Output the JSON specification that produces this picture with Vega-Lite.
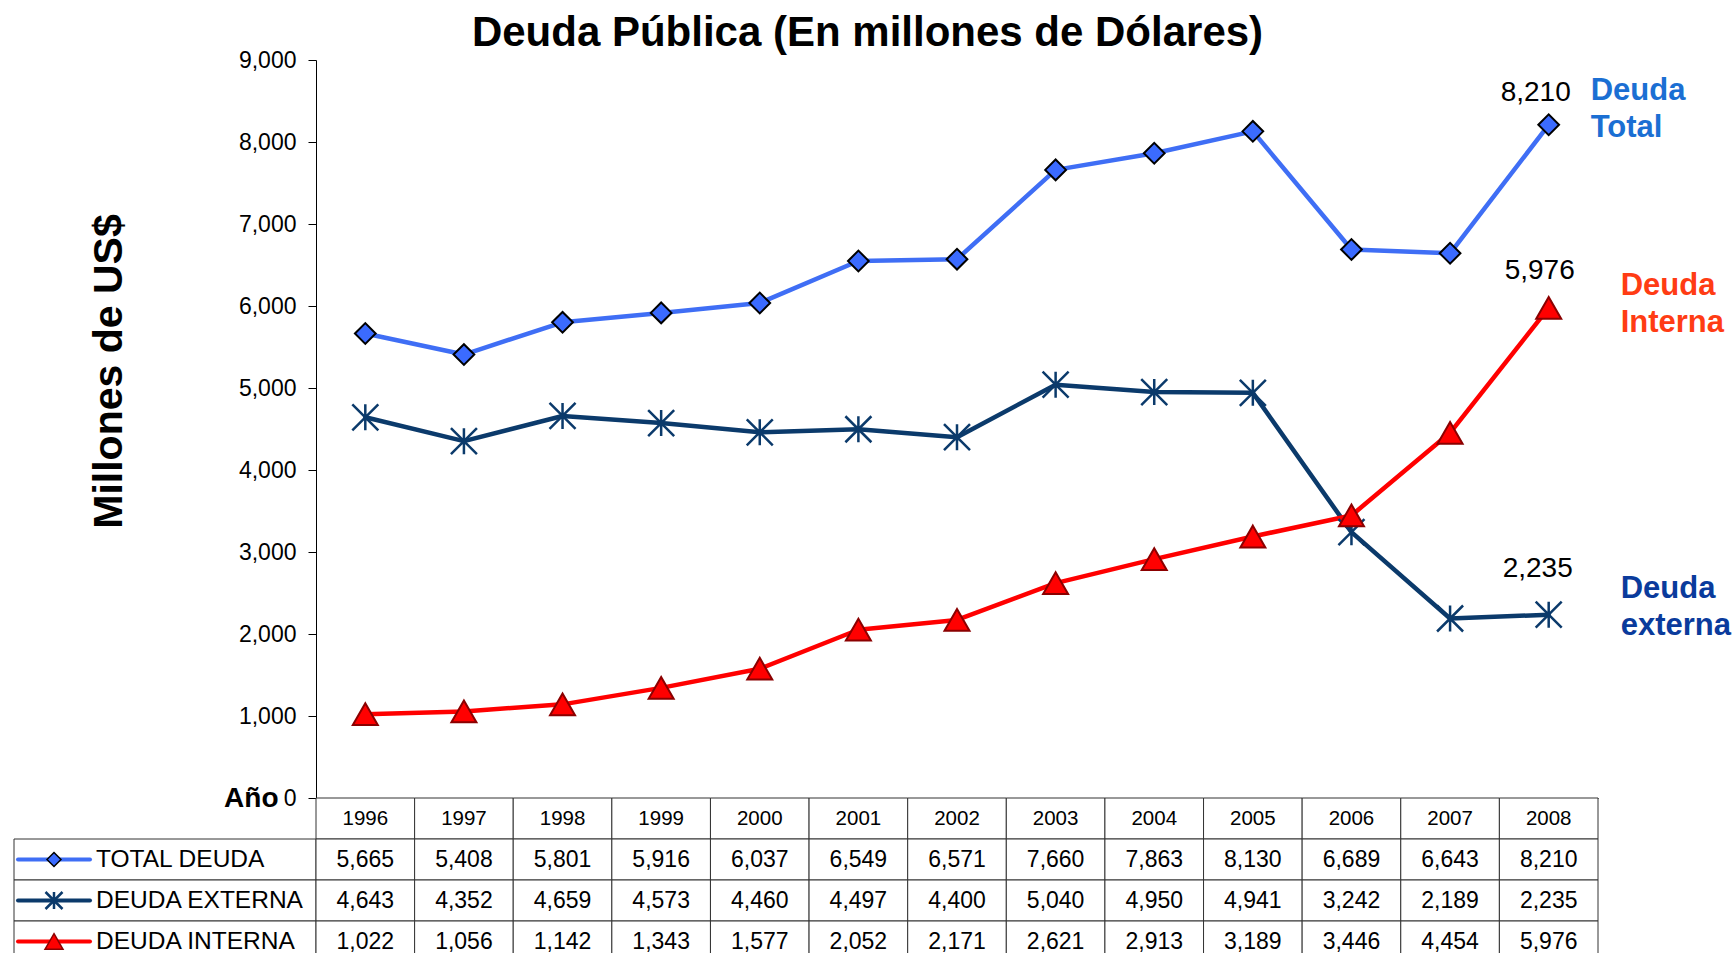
{
  "$schema": "https://vega.github.io/schema/vega-lite/v6.json",
  "padding": {"left": 10, "top": 12, "right": 5, "bottom": 0},
  "background": "white",
  "title": {"text": "Deuda Pública (En millones de Dólares)", "fontSize": 42, "font": "Liberation Sans", "fontWeight": "bold", "color": "#000000", "anchor": "middle", "offset": -6, "dx": -3},
  "config": {"view": {"stroke": null}, "font": "Liberation Sans"},
  "datasets": {
    "deuda": [
      {"year": "1996", "serie": "TOTAL DEUDA", "value": 5665},
      {"year": "1997", "serie": "TOTAL DEUDA", "value": 5408},
      {"year": "1998", "serie": "TOTAL DEUDA", "value": 5801},
      {"year": "1999", "serie": "TOTAL DEUDA", "value": 5916},
      {"year": "2000", "serie": "TOTAL DEUDA", "value": 6037},
      {"year": "2001", "serie": "TOTAL DEUDA", "value": 6549},
      {"year": "2002", "serie": "TOTAL DEUDA", "value": 6571},
      {"year": "2003", "serie": "TOTAL DEUDA", "value": 7660},
      {"year": "2004", "serie": "TOTAL DEUDA", "value": 7863},
      {"year": "2005", "serie": "TOTAL DEUDA", "value": 8130},
      {"year": "2006", "serie": "TOTAL DEUDA", "value": 6689},
      {"year": "2007", "serie": "TOTAL DEUDA", "value": 6643},
      {"year": "2008", "serie": "TOTAL DEUDA", "value": 8210},
      {"year": "1996", "serie": "DEUDA EXTERNA", "value": 4643},
      {"year": "1997", "serie": "DEUDA EXTERNA", "value": 4352},
      {"year": "1998", "serie": "DEUDA EXTERNA", "value": 4659},
      {"year": "1999", "serie": "DEUDA EXTERNA", "value": 4573},
      {"year": "2000", "serie": "DEUDA EXTERNA", "value": 4460},
      {"year": "2001", "serie": "DEUDA EXTERNA", "value": 4497},
      {"year": "2002", "serie": "DEUDA EXTERNA", "value": 4400},
      {"year": "2003", "serie": "DEUDA EXTERNA", "value": 5040},
      {"year": "2004", "serie": "DEUDA EXTERNA", "value": 4950},
      {"year": "2005", "serie": "DEUDA EXTERNA", "value": 4941},
      {"year": "2006", "serie": "DEUDA EXTERNA", "value": 3242},
      {"year": "2007", "serie": "DEUDA EXTERNA", "value": 2189},
      {"year": "2008", "serie": "DEUDA EXTERNA", "value": 2235},
      {"year": "1996", "serie": "DEUDA INTERNA", "value": 1022},
      {"year": "1997", "serie": "DEUDA INTERNA", "value": 1056},
      {"year": "1998", "serie": "DEUDA INTERNA", "value": 1142},
      {"year": "1999", "serie": "DEUDA INTERNA", "value": 1343},
      {"year": "2000", "serie": "DEUDA INTERNA", "value": 1577},
      {"year": "2001", "serie": "DEUDA INTERNA", "value": 2052},
      {"year": "2002", "serie": "DEUDA INTERNA", "value": 2171},
      {"year": "2003", "serie": "DEUDA INTERNA", "value": 2621},
      {"year": "2004", "serie": "DEUDA INTERNA", "value": 2913},
      {"year": "2005", "serie": "DEUDA INTERNA", "value": 3189},
      {"year": "2006", "serie": "DEUDA INTERNA", "value": 3446},
      {"year": "2007", "serie": "DEUDA INTERNA", "value": 4454},
      {"year": "2008", "serie": "DEUDA INTERNA", "value": 5976}
    ]
  },
  "columns": 2,
  "spacing": 0,
  "bounds": "flush",
  "align": "each",
  "concat": [
    {
      "width": 302,
      "height": 738,
      "data": {"values": [{}]},
      "mark": {"type": "point", "opacity": 0}
    },
    {
      "width": 1282,
      "height": 738,
      "data": {"name": "deuda"},
      "encoding": {
        "x": {"field": "year", "type": "ordinal", "scale": {"type": "point", "padding": 0.5},
          "axis": {"labels": false, "ticks": false, "domain": true, "domainColor": "#000000", "domainWidth": 1, "grid": false,
            "title": "Año", "titleFontSize": 28, "titleFontWeight": "bold", "titleColor": "#000000", "titleAlign": "right", "titleBaseline": "alphabetic", "titleX": -38, "titleY": 8}},
        "y": {"field": "value", "type": "quantitative", "scale": {"domain": [0, 9000], "nice": false, "zero": true},
          "axis": {"values": [0, 1000, 2000, 3000, 4000, 5000, 6000, 7000, 8000, 9000], "format": ",.0f", "grid": false,
            "labelFontSize": 23, "labelColor": "#000000", "labelPadding": 12, "labelFlush": false, "labelOverlap": false,
            "tickSize": 8, "tickColor": "#000000", "domainColor": "#000000",
            "title": "Millones de US$", "titleFontSize": 41, "titleFontWeight": "bold", "titleColor": "#000000", "titleAngle": -90,
            "titleX": -207, "titleY": 311, "titleAlign": "center", "titleBaseline": "middle"}}
      },
      "layer": [
        {
          "mark": {"type": "line", "strokeWidth": 4.5, "strokeCap": "round", "strokeJoin": "round"},
          "encoding": {"color": {"field": "serie", "type": "nominal",
            "scale": {"domain": ["TOTAL DEUDA", "DEUDA EXTERNA", "DEUDA INTERNA"], "range": ["#3f6ef5", "#0b3a6b", "#ff0000"]}, "legend": null}}
        },
        {
          "transform": [{"filter": "datum.serie == 'TOTAL DEUDA'"}],
          "mark": {"type": "point", "shape": "diamond", "filled": true, "fill": "#3b6bff", "stroke": "#000000", "strokeWidth": 2, "size": 430, "opacity": 1}
        },
        {
          "transform": [{"filter": "datum.serie == 'DEUDA EXTERNA'"}],
          "mark": {"type": "point", "shape": "M-1,-1L1,1M-1,1L1,-1M0,-1L0,1", "filled": false, "stroke": "#0b3a6b", "strokeWidth": 2.5, "size": 676, "opacity": 1}
        },
        {
          "transform": [{"filter": "datum.serie == 'DEUDA INTERNA'"}],
          "mark": {"type": "point", "shape": "M0,-0.87L1,0.87L-1,0.87Z", "filled": true, "fill": "#ff0000", "stroke": "#8b0000", "strokeWidth": 2, "size": 625, "opacity": 1}
        },
        {
          "transform": [{"filter": "datum.serie == 'TOTAL DEUDA' && datum.year == '2008'"}],
          "mark": {"type": "text", "align": "center", "baseline": "alphabetic", "dx": -13, "dy": -24, "fontSize": 28, "color": "#000000"},
          "encoding": {"text": {"field": "value", "type": "quantitative", "format": ","}}
        },
        {
          "transform": [{"filter": "datum.serie == 'DEUDA INTERNA' && datum.year == '2008'"}],
          "mark": {"type": "text", "align": "center", "baseline": "alphabetic", "dx": -9, "dy": -29, "fontSize": 28, "color": "#000000"},
          "encoding": {"text": {"field": "value", "type": "quantitative", "format": ","}}
        },
        {
          "transform": [{"filter": "datum.serie == 'DEUDA EXTERNA' && datum.year == '2008'"}],
          "mark": {"type": "text", "align": "center", "baseline": "alphabetic", "dx": -11, "dy": -38, "fontSize": 28, "color": "#000000"},
          "encoding": {"text": {"field": "value", "type": "quantitative", "format": ","}}
        },
        {
          "transform": [{"filter": "datum.serie == 'TOTAL DEUDA' && datum.year == '2008'"}],
          "mark": {"type": "text", "text": ["Deuda", "Total"], "align": "left", "baseline": "alphabetic", "dx": 42, "dy": -25, "fontSize": 31, "fontWeight": "bold", "lineHeight": 37, "color": "#1b6fd3"}
        },
        {
          "transform": [{"filter": "datum.serie == 'DEUDA INTERNA' && datum.year == '2008'"}],
          "mark": {"type": "text", "text": ["Deuda", "Interna"], "align": "left", "baseline": "alphabetic", "dx": 72, "dy": -13, "fontSize": 31, "fontWeight": "bold", "lineHeight": 37, "color": "#ff3c14"}
        },
        {
          "transform": [{"filter": "datum.serie == 'DEUDA EXTERNA' && datum.year == '2008'"}],
          "mark": {"type": "text", "text": ["Deuda", "externa"], "align": "left", "baseline": "alphabetic", "dx": 72, "dy": -17, "fontSize": 31, "fontWeight": "bold", "lineHeight": 37, "color": "#0a3b9c"}
        }
      ]
    },
    {
      "width": 302,
      "height": 164,
      "data": {"name": "deuda"},
      "transform": [{"aggregate": [{"op": "max", "field": "value", "as": "maxv"}], "groupby": ["serie"]}],
      "encoding": {
        "y": {"field": "serie", "type": "nominal", "bandPosition": 0.5,
          "scale": {"type": "band", "domain": ["Año", "TOTAL DEUDA", "DEUDA EXTERNA", "DEUDA INTERNA"], "paddingInner": 0, "paddingOuter": 0}, "axis": null}
      },
      "layer": [
        {
          "mark": {"type": "rect", "fill": "#ffffff", "stroke": "#333333", "strokeWidth": 1},
          "encoding": {"y": {"field": "serie", "type": "nominal",
            "scale": {"type": "band", "domain": ["Año", "TOTAL DEUDA", "DEUDA EXTERNA", "DEUDA INTERNA"], "paddingInner": 0, "paddingOuter": 0}, "axis": null}}
        },
        {
          "mark": {"type": "point", "shape": "M-1,0L1,0", "filled": false, "strokeWidth": 4, "strokeCap": "round", "size": 5184, "xOffset": -111, "opacity": 1},
          "encoding": {"stroke": {"field": "serie", "type": "nominal",
            "scale": {"domain": ["TOTAL DEUDA", "DEUDA EXTERNA", "DEUDA INTERNA"], "range": ["#3f6ef5", "#0b3a6b", "#ff0000"]}, "legend": null}}
        },
        {
          "transform": [{"filter": "datum.serie == 'TOTAL DEUDA'"}],
          "mark": {"type": "point", "shape": "diamond", "filled": true, "fill": "#3b6bff", "stroke": "#000000", "strokeWidth": 1.5, "size": 196, "xOffset": -111, "opacity": 1}
        },
        {
          "transform": [{"filter": "datum.serie == 'DEUDA EXTERNA'"}],
          "mark": {"type": "point", "shape": "M-1,-1L1,1M-1,1L1,-1M0,-1L0,1", "filled": false, "stroke": "#0b3a6b", "strokeWidth": 2.5, "size": 289, "xOffset": -111, "opacity": 1}
        },
        {
          "transform": [{"filter": "datum.serie == 'DEUDA INTERNA'"}],
          "mark": {"type": "point", "shape": "M0,-0.87L1,0.87L-1,0.87Z", "filled": true, "fill": "#ff0000", "stroke": "#8b0000", "strokeWidth": 1.5, "size": 324, "xOffset": -111, "opacity": 1}
        },
        {
          "mark": {"type": "text", "align": "left", "baseline": "middle", "dx": -69, "fontSize": 24.5, "color": "#000000"},
          "encoding": {"text": {"field": "serie", "type": "nominal"}}
        }
      ]
    },
    {
      "width": 1282,
      "height": 164,
      "data": {"name": "deuda"},
      "encoding": {
        "x": {"field": "year", "type": "ordinal", "scale": {"type": "band", "paddingInner": 0, "paddingOuter": 0}, "axis": null}
      },
      "layer": [
        {
          "transform": [{"aggregate": [{"op": "count", "as": "n"}], "groupby": ["year"]}],
          "mark": {"type": "rect", "fill": "#ffffff", "stroke": "#333333", "strokeWidth": 1},
          "encoding": {"y": {"datum": "Año", "type": "nominal",
            "scale": {"type": "band", "domain": ["Año", "TOTAL DEUDA", "DEUDA EXTERNA", "DEUDA INTERNA"], "paddingInner": 0, "paddingOuter": 0}, "axis": null}}
        },
        {
          "mark": {"type": "rect", "fill": "#ffffff", "stroke": "#333333", "strokeWidth": 1},
          "encoding": {"y": {"field": "serie", "type": "nominal",
            "scale": {"type": "band", "domain": ["Año", "TOTAL DEUDA", "DEUDA EXTERNA", "DEUDA INTERNA"], "paddingInner": 0, "paddingOuter": 0}, "axis": null}}
        },
        {
          "transform": [{"aggregate": [{"op": "count", "as": "n"}], "groupby": ["year"]}],
          "mark": {"type": "text", "align": "center", "baseline": "middle", "fontSize": 20.5, "color": "#000000"},
          "encoding": {
            "y": {"datum": "Año", "type": "nominal", "bandPosition": 0.5,
              "scale": {"type": "band", "domain": ["Año", "TOTAL DEUDA", "DEUDA EXTERNA", "DEUDA INTERNA"], "paddingInner": 0, "paddingOuter": 0}, "axis": null},
            "text": {"field": "year", "type": "nominal"}
          }
        },
        {
          "mark": {"type": "text", "align": "center", "baseline": "middle", "fontSize": 23, "color": "#000000"},
          "encoding": {
            "y": {"field": "serie", "type": "nominal", "bandPosition": 0.5,
              "scale": {"type": "band", "domain": ["Año", "TOTAL DEUDA", "DEUDA EXTERNA", "DEUDA INTERNA"], "paddingInner": 0, "paddingOuter": 0}, "axis": null},
            "text": {"field": "value", "type": "quantitative", "format": ","}
          }
        }
      ]
    }
  ]
}
